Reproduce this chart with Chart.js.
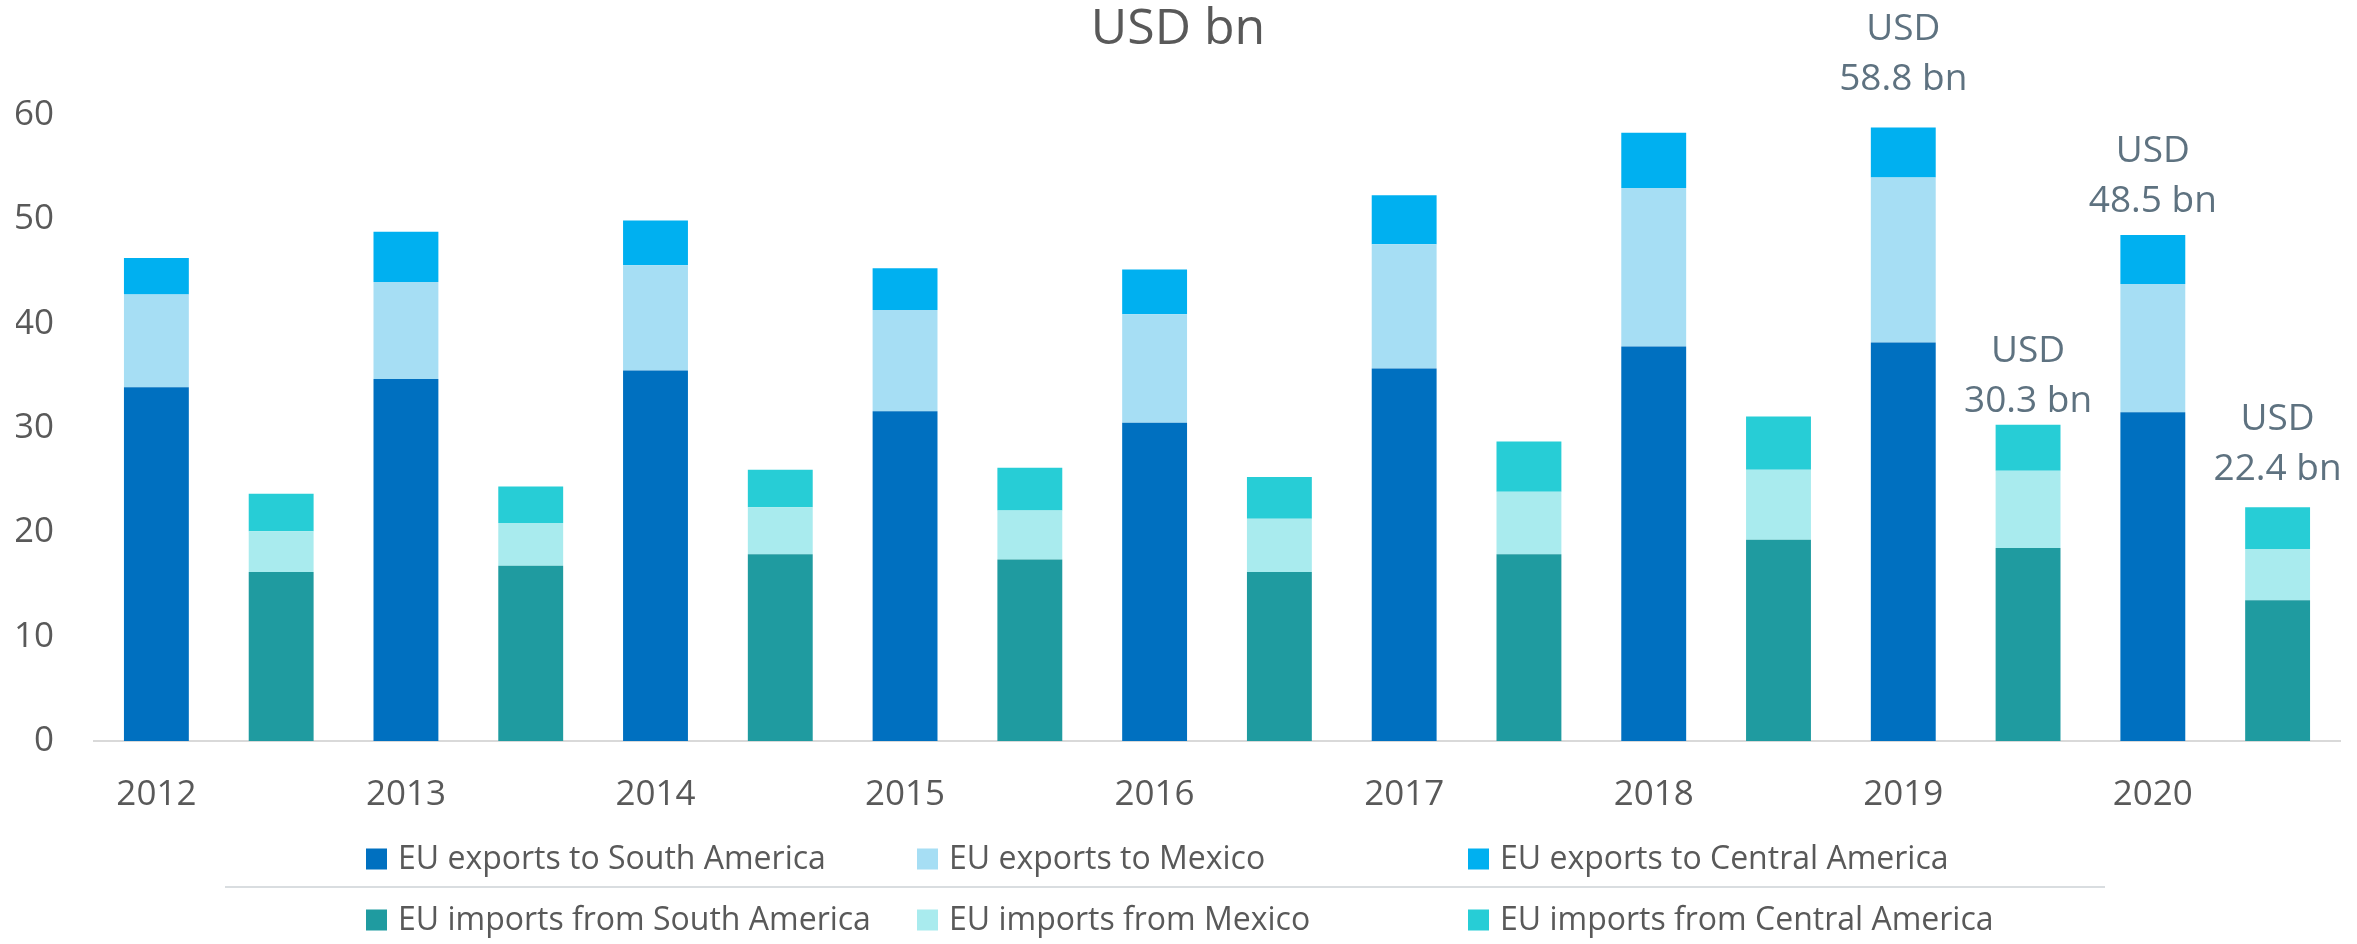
<!DOCTYPE html>
<html lang="en">
  <head>
    <meta charset="utf-8">
    <title>EU trade with Latin America</title>
    <script src="https://cdn.jsdelivr.net/npm/chart.js@4.4.1/dist/chart.umd.min.js"></script>
    <style>
      html, body { margin: 0; padding: 0; background: #fff; }
      #wrap { width: 2357px; height: 944px; position: relative; }
    </style>
  </head>
  <body>
    <div id="wrap"><canvas id="bar-chart"></canvas></div>

  <script>
    // years on the axis, each year has an exports bar then an imports bar
    var years = ["2012", "2013", "2014", "2015", "2016", "2017", "2018", "2019", "2020"];

    // USD bn
    var expSouthAmerica   = [33.9, 34.7, 35.5, 31.6, 30.5, 35.7, 37.8, 38.2, 31.5];
    var expMexico         = [ 8.9,  9.3, 10.1,  9.7, 10.4, 11.9, 15.2, 15.8, 12.3];
    var expCentralAmerica = [ 3.5,  4.8,  4.3,  4.0,  4.3,  4.7,  5.3,  4.8,  4.7];
    var impSouthAmerica   = [16.2, 16.8, 17.9, 17.4, 16.2, 17.9, 19.3, 18.5, 13.5];
    var impMexico         = [ 3.9,  4.1,  4.5,  4.7,  5.1,  6.0,  6.7,  7.4,  4.9];
    var impCentralAmerica = [ 3.6,  3.5,  3.6,  4.1,  4.0,  4.8,  5.1,  4.4,  4.0];

    var yTicks = [0, 10, 20, 30, 40, 50, 60];
    // bars that carry a total label (index in the 18 bar slots)
    var labelledBars = [14, 15, 16, 17];

    // build the 18 slots: even = exports, odd = imports
    var labels = [];
    years.forEach(function (y) { labels.push(y); labels.push(""); });

    function exportSlots(arr) {
      var out = [];
      arr.forEach(function (v) { out.push(v); out.push(null); });
      return out;
    }
    function importSlots(arr) {
      var out = [];
      arr.forEach(function (v) { out.push(null); out.push(v); });
      return out;
    }

    var FONT = "'Open Sans', 'Noto Sans', sans-serif";

    var datasets = [
      { label: "EU exports to South America",   data: exportSlots(expSouthAmerica),   backgroundColor: "#0070C0" },
      { label: "EU exports to Mexico",          data: exportSlots(expMexico),         backgroundColor: "#A6DEF4" },
      { label: "EU exports to Central America", data: exportSlots(expCentralAmerica), backgroundColor: "#00B0F0" },
      { label: "EU imports from South America",   data: importSlots(impSouthAmerica),   backgroundColor: "#1F9BA0" },
      { label: "EU imports from Mexico",          data: importSlots(impMexico),         backgroundColor: "#A9EBEE" },
      { label: "EU imports from Central America", data: importSlots(impCentralAmerica), backgroundColor: "#27CDD6" }
    ];
    datasets.forEach(function (d) {
      d.barPercentage = 0.52;
      d.categoryPercentage = 1.0;
      d.borderWidth = 0;
    });

    // total labels ("USD / xx.x bn") above chosen bars
    var totalLabels = {
      id: "totalLabels",
      afterDatasetsDraw: function (chart, args, opts) {
        var ctx = chart.ctx;
        var y = chart.scales.y;
        ctx.save();
        ctx.font = opts.size + "px " + FONT;
        ctx.fillStyle = opts.color;
        ctx.textAlign = "center";
        ctx.textBaseline = "middle";
        labelledBars.forEach(function (idx, k) {
          var total = 0, x = null;
          chart.data.datasets.forEach(function (ds, di) {
            var v = ds.data[idx];
            if (v != null) {
              total += v;
              x = chart.getDatasetMeta(di).data[idx].x;
            }
          });
          var top = y.getPixelForValue(total);
          var line2 = top - opts.gaps[k];
          ctx.fillText("USD", x, line2 - opts.lineGap);
          ctx.fillText(total.toFixed(1) + " bn", x, line2);
        });
        ctx.restore();
      }
    };

    // legend: two rows of three, a thin rule between the rows
    var gridLegend = {
      id: "gridLegend",
      afterDraw: function (chart, args, opts) {
        var ctx = chart.ctx;
        ctx.save();
        ctx.strokeStyle = "#D9DDE0";
        ctx.lineWidth = 2;
        ctx.beginPath();
        ctx.moveTo(opts.ruleLeft, opts.ruleY);
        ctx.lineTo(opts.ruleRight, opts.ruleY);
        ctx.stroke();
        ctx.font = opts.size + "px " + FONT;
        ctx.textBaseline = "middle";
        ctx.textAlign = "left";
        chart.data.datasets.forEach(function (ds, i) {
          var col = i % 3, row = Math.floor(i / 3);
          var x = opts.left + col * opts.colWidth;
          var cy = opts.rows[row];
          ctx.fillStyle = ds.backgroundColor;
          ctx.fillRect(x, cy - opts.box / 2, opts.box, opts.box);
          ctx.fillStyle = "#595959";
          ctx.fillText(ds.label, x + opts.box + 11, cy + 1);
        });
        ctx.restore();
      }
    };

    new Chart(document.getElementById("bar-chart"), {
      type: "bar",
      data: { labels: labels, datasets: datasets },
      plugins: [totalLabels, gridLegend],
      options: {
        responsive: true,
        maintainAspectRatio: false,
        animation: false,
        layout: { padding: { left: 16, right: 17, top: 0, bottom: 128 } },
        plugins: {
          legend: { display: false },
          tooltip: { enabled: false },
          title: {
            display: true,
            text: "USD bn",
            color: "#595959",
            font: { family: FONT, size: 50, weight: "normal" },
            padding: { top: 0, bottom: 55 }
          },
          totalLabels: { size: 37, color: "#5E7280", lineGap: 50, gaps: [48, 23, 34, 38] },
          gridLegend: {
            left: 366, colWidth: 551, rows: [859, 920], box: 21, size: 32,
            ruleLeft: 225, ruleRight: 2105, ruleY: 887
          }
        },
        scales: {
          x: {
            stacked: true,
            grid: { display: false, drawTicks: false },
            border: { display: true, color: "#D9D9D9", width: 2 },
            ticks: {
              color: "#595959", padding: 33, autoSkip: false, maxRotation: 0,
              font: { family: FONT, size: 35 }
            },
            afterFit: function (axis) { axis.height = 75; }
          },
          y: {
            stacked: true,
            min: 0,
            max: 60,
            afterBuildTicks: function (axis) {
              axis.ticks = yTicks.map(function (v) { return { value: v }; });
            },
            grid: { display: false, drawTicks: false },
            border: { display: false },
            ticks: {
              color: "#595959", padding: 40,
              font: { family: FONT, size: 35 }
            },
            afterFit: function (axis) { axis.width = 78; }
          }
        }
      }
    });
  </script>
  </body>
</html>
